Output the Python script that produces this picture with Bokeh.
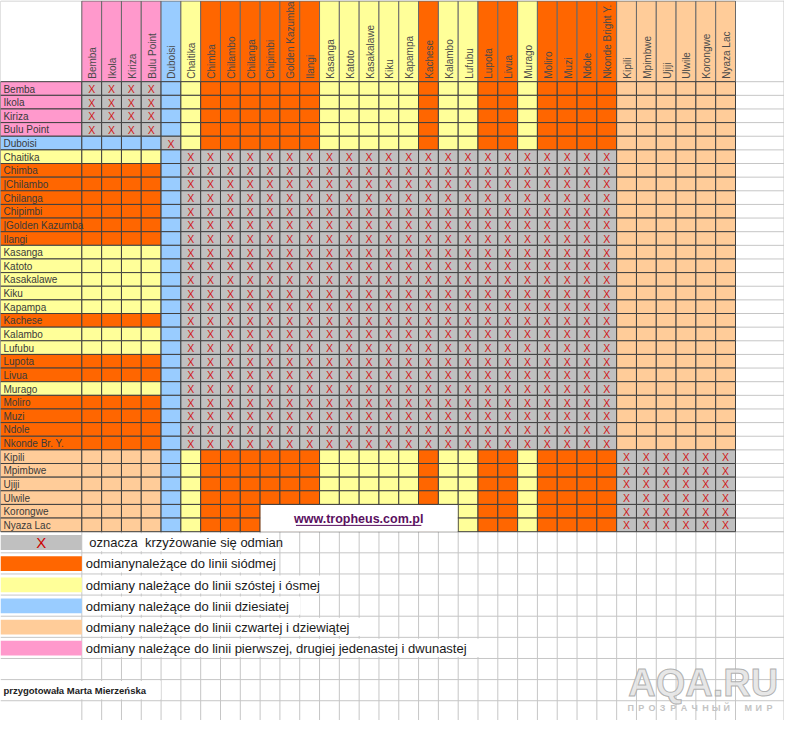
import math
from bokeh.plotting import figure
from bokeh.models import Range1d
from bokeh.core.properties import value
from bokeh.embed import file_html
from bokeh.resources import INLINE

# ---------------- data ----------------
col_names = ["Bemba", "Ikola", "Kiriza", "Bulu Point", "Duboisi", "Chaitika", "Chimba",
             "Chilambo", "Chilanga", "Chipimbi", "Golden Kazumba", "Ilangi", "Kasanga",
             "Katoto", "Kasakalawe", "Kiku", "Kapampa", "Kachese", "Kalambo", "Lufubu",
             "Lupota", "Livua", "Murago", "Moliro", "Muzi", "Ndole", "Nkonde Bright Y.",
             "Kipili", "Mpimbwe", "Ujiji", "Ulwile", "Korongwe", "Nyaza Lac"]
row_names = ["Bemba", "Ikola", "Kiriza", "Bulu Point", "Duboisi", "Chaitika", "Chimba",
             "|Chilambo", "Chilanga", "Chipimbi", "|Golden Kazumba", "Ilangi", "Kasanga",
             "Katoto", "Kasakalawe", "Kiku", "Kapampa", "Kachese", "Kalambo", "Lufubu",
             "Lupota", "Livua", "Murago", "Moliro", "Muzi", "Ndole", "Nkonde Br. Y.",
             "Kipili", "Mpimbwe", "Ujiji", "Ulwile", "Korongwe", "Nyaza Lac"]
# line class of each variety (same order for rows and columns)
line_class = (["p"] * 4 + ["b"] + ["y"] + ["o"] * 6 + ["y"] * 5 + ["o"] + ["y"] * 2
              + ["o"] * 2 + ["y"] + ["o"] * 4 + ["c"] * 6)
# crossing group: varieties of the same group can be crossed ("X")
cross_group = [0] * 4 + [1] + [2] * 22 + [3] * 6

class_colors = {"p": "#FF99CC", "b": "#99CCFF", "y": "#FFFF99", "o": "#FF6600",
                "c": "#FFCC99", "x": "#C0C0C0"}

legend_keys = ["x", "o", "y", "b", "c", "p"]
legend_labels = ["\u00a0oznacza\u00a0\u00a0krzyżowanie się odmian",
                 "odmianynależące do linii siódmej",
                 "odmiany należące do linii szóstej i ósmej",
                 "odmiany należące do linii dziesiatej",
                 "odmiany należące do linii czwartej i dziewiątej",
                 "odmiany należące do linii pierwszej, drugiej jedenastej i dwunastej"]
footer_text = "przygotowała Marta Mierzeńska"
web_text = "www.tropheus.com.pl"
web_rows = (31, 32)
web_cols = (9, 18)
wm_big = "AQA.RU"
wm_small = "ПРОЗРАЧНЫЙ МИР"

# ---------------- layout ----------------
W, H = 800, 736
LABEL_W = 83.0
HEAD_H = 83.0
CW = (750.0 - LABEL_W) / len(col_names)
RH = (543.0 - HEAD_H) / len(row_names)
LEG_TOP = 543.0
LEG_H = 21.6
FONT = "Liberation Sans"
nC, nR = len(col_names), len(row_names)
grid_right = LABEL_W + nC * CW
body_bottom = HEAD_H + nR * RH

p = figure(width=784, height=720, x_range=Range1d(0, W), y_range=Range1d(H, 0),
           output_backend="svg", toolbar_location=None, min_border=0,
           x_axis_type=None, y_axis_type=None)
p.outline_line_color = None
p.background_fill_color = "white"
p.border_fill_color = "white"

LIGHT = "#C6C6C6"
# light spreadsheet grid in empty area
vx = [LABEL_W + i * CW for i in range(nC + 1)]
p.segment(x0=vx, y0=[body_bottom] * len(vx), x1=vx, y1=[H] * len(vx), line_color=LIGHT, line_width=1)
hy = [LEG_TOP + k * LEG_H for k in range(10)]
p.segment(x0=[0] * len(hy), y0=hy, x1=[W] * len(hy), y1=hy, line_color=LIGHT, line_width=1)
ry = [HEAD_H + j * RH for j in range(nR + 1)] + [0.5]
p.segment(x0=[grid_right] * len(ry), y0=ry, x1=[W] * len(ry), y1=ry, line_color=LIGHT, line_width=1)
p.segment(x0=[W - 0.5], y0=[0], x1=[W - 0.5], y1=[H], line_color=LIGHT, line_width=1)

# white backgrounds behind overflowing texts (hide gridlines)
leg_tops = [LEG_TOP + k * LEG_H for k in range(len(legend_labels))]
leg_w = [len(t) * 6.0 + 6 for t in legend_labels]
p.quad(left=[LABEL_W + 1] * len(leg_tops), right=[LABEL_W + 1 + w for w in leg_w],
       top=[t + 1.5 for t in leg_tops], bottom=[t + LEG_H - 1.5 for t in leg_tops],
       fill_color="white", line_color=None)
foot_top = LEG_TOP + 7 * LEG_H
p.quad(left=[1], right=[len(footer_text) * 5.5 + 4], top=[foot_top + 1.5],
       bottom=[foot_top + LEG_H - 1.5], fill_color="white", line_color=None)

# legend colour boxes
p.quad(left=[0] * len(leg_tops), right=[LABEL_W] * len(leg_tops),
       top=[t + 3.5 for t in leg_tops], bottom=[t + LEG_H - 3 for t in leg_tops],
       fill_color=[class_colors[k] for k in legend_keys], line_color=None)

# header
p.quad(left=[0], right=[LABEL_W], top=[0.5], bottom=[HEAD_H], fill_color="white", line_color=LIGHT)
hx0 = [LABEL_W + i * CW for i in range(nC)]
p.quad(left=hx0, right=[x + CW for x in hx0], top=[0.5] * nC, bottom=[HEAD_H] * nC,
       fill_color=[class_colors[c] for c in line_class], line_color="#6a6a6a", line_width=1)

# row labels
ry0 = [HEAD_H + j * RH for j in range(nR)]
p.quad(left=[0] * nR, right=[LABEL_W] * nR, top=ry0, bottom=[y + RH for y in ry0],
       fill_color=[class_colors[c] for c in line_class], line_color="#404040", line_width=1)

# body cells
cl, cr, ct, cb, cf = [], [], [], [], []
xx, xy = [], []
for r in range(nR):
    for c in range(nC):
        if cross_group[r] == cross_group[c]:
            col = class_colors["x"]
            xx.append(LABEL_W + (c + 0.5) * CW)
            xy.append(HEAD_H + (r + 0.5) * RH)
        elif cross_group[c] == 0:
            col = class_colors[line_class[r]]
        else:
            col = class_colors[line_class[c]]
        cl.append(LABEL_W + c * CW)
        cr.append(LABEL_W + (c + 1) * CW)
        ct.append(HEAD_H + r * RH)
        cb.append(HEAD_H + (r + 1) * RH)
        cf.append(col)
p.quad(left=cl, right=cr, top=ct, bottom=cb, fill_color=cf, line_color="#404040", line_width=1)

# X marks
p.text(x=xx, y=[y + 0.5 for y in xy], text=["X"] * len(xx), text_font=value(FONT),
       text_font_size=value("10.5px"), text_color="#D01818", text_align="center",
       text_baseline="middle")

# website box
wl = LABEL_W + web_cols[0] * CW
wr = LABEL_W + (web_cols[1] + 1) * CW
wt = HEAD_H + web_rows[0] * RH
wb = HEAD_H + (web_rows[1] + 1) * RH
p.quad(left=[wl + 0.5], right=[wr - 0.5], top=[wt + 0.5], bottom=[wb], fill_color="white", line_color=None)
wcx = (wl + wr) / 2 - 0.5
p.text(x=[wcx], y=[(wt + wb) / 2 + 0.5], text=[web_text], text_font=value(FONT),
       text_font_size=value("12.5px"), text_font_style="bold", text_color="#5A1060",
       text_align="center", text_baseline="middle")
p.segment(x0=[wcx - 64], y0=[(wt + wb) / 2 + 7.5], x1=[wcx + 64], y1=[(wt + wb) / 2 + 7.5],
          line_color="#5A1060", line_width=1)

# header texts (vertical)
p.text(x=[LABEL_W + (i + 0.5) * CW + 1 for i in range(nC)], y=[HEAD_H - 3] * nC, text=col_names,
       angle=math.pi / 2, text_font=value(FONT), text_font_size=value("10px"),
       text_color="#4a4a4a", text_align="left", text_baseline="middle")

# row label texts
p.text(x=[3] * nR, y=[HEAD_H + (j + 0.5) * RH + 0.5 for j in range(nR)], text=row_names,
       text_font=value(FONT), text_font_size=value("10px"), text_color="#3a3a3a",
       text_align="left", text_baseline="middle")

# legend texts
p.text(x=[87] * len(leg_tops), y=[t + LEG_H / 2 + 0.5 for t in leg_tops], text=legend_labels,
       text_font=value(FONT), text_font_size=value("13px"), text_color="#1a1a1a",
       text_align="left", text_baseline="middle")
p.text(x=[LABEL_W / 2], y=[leg_tops[0] + LEG_H / 2 + 0.5], text=["X"], text_font=value(FONT),
       text_font_size=value("15px"), text_color="#CC0000", text_align="center",
       text_baseline="middle")

# footer
p.text(x=[3], y=[foot_top + LEG_H / 2 + 0.5], text=[footer_text], text_font=value(FONT),
       text_font_size=value("9.5px"), text_font_style="bold", text_color="#222222",
       text_align="left", text_baseline="middle")

# watermark
p.text(x=[717], y=[698], text=[wm_big], text_font=value(FONT), text_font_size=value("38px"),
       text_font_style="bold", text_color="#E4E4E4", text_outline_color="#AAAAAA",
       text_align="center", text_baseline="middle", text_alpha=0.9)
p.text(x=[643 + i * 10.9 for i in range(len(wm_small))], y=[723] * len(wm_small),
       text=list(wm_small), text_font=value(FONT), text_font_size=value("9px"),
       text_font_style="bold", text_color="#C4C4C4", text_align="center",
       text_baseline="middle")

open("out.html", "w").write(file_html(p, INLINE))
